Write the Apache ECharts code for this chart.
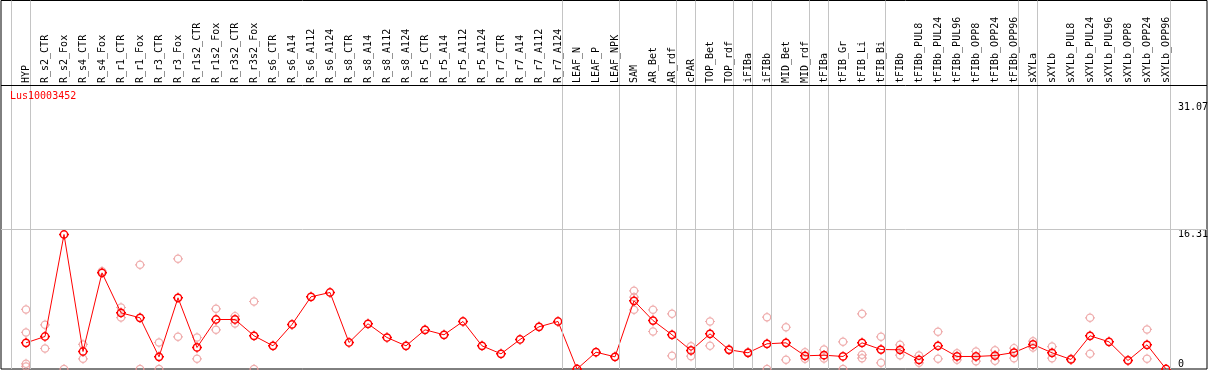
<!DOCTYPE html>
<html>
<head>
<meta charset="utf-8">
<script src="https://cdn.jsdelivr.net/npm/echarts@6/dist/echarts.min.js"></script>
<style>
html,body{margin:0;padding:0;background:#fff;}
#chart{width:1209px;height:370px;}
</style>
</head>
<body>
<div id="chart"></div>
<script>
const geneName = 'Lus10003452';
const categories = ['HYP','R_s2_CTR','R_s2_Fox','R_s4_CTR','R_s4_Fox','R_r1_CTR','R_r1_Fox','R_r3_CTR','R_r3_Fox','R_r1s2_CTR','R_r1s2_Fox','R_r3s2_CTR','R_r3s2_Fox','R_s6_CTR','R_s6_A14','R_s6_A112','R_s6_A124','R_s8_CTR','R_s8_A14','R_s8_A112','R_s8_A124','R_r5_CTR','R_r5_A14','R_r5_A112','R_r5_A124','R_r7_CTR','R_r7_A14','R_r7_A112','R_r7_A124','LEAF_N','LEAF_P','LEAF_NPK','SAM','AR_Bet','AR_rdf','cPAR','TOP_Bet','TOP_rdf','iFIBa','iFIBb','MID_Bet','MID_rdf','tFIBa','tFIB_Gr','tFIB_Li','tFIB_Bi','tFIBb','tFIBb_PUL8','tFIBb_PUL24','tFIBb_PUL96','tFIBb_OPP8','tFIBb_OPP24','tFIBb_OPP96','sXYLa','sXYLb','sXYLb_PUL8','sXYLb_PUL24','sXYLb_PUL96','sXYLb_OPP8','sXYLb_OPP24','sXYLb_OPP96'];
const meanValues = [3.05,3.79,15.68,2.04,11.21,6.55,5.97,1.42,8.30,2.51,5.77,5.77,3.87,2.70,5.19,8.42,8.92,3.09,5.27,3.67,2.70,4.57,3.99,5.54,2.70,1.77,3.44,4.92,5.54,0,1.96,1.42,7.95,5.65,3.99,2.16,4.10,2.24,1.89,2.94,3.05,1.54,1.61,1.46,3.05,2.27,2.24,1.07,2.70,1.46,1.46,1.57,1.92,2.86,1.89,1.11,3.87,3.17,0.99,2.82,0];
const rep1 = [6.94,5.15,0,2.86,11.4,7.17,12.15,3.09,12.85,3.67,7.02,6.16,7.87,null,null,null,null,null,null,null,null,null,null,null,null,null,null,null,null,null,null,null,9.11,6.90,6.43,2.66,5.54,2.30,1.95,6.04,4.87,1.96,2.27,3.17,6.43,3.75,2.82,1.57,4.34,1.84,2.04,2.19,2.43,3.24,2.62,1.20,5.97,null,1.05,4.61,null];
const rep2 = [4.26,2.39,null,1.19,null,6.00,0,0,3.75,1.19,4.57,5.31,0,null,null,null,null,null,null,null,null,null,null,null,null,null,null,null,null,null,null,null,8.37,4.37,1.54,1.50,2.70,null,null,0,1.07,1.19,1.22,0,1.65,0.72,1.61,0.72,1.19,1.07,0.91,0.95,1.26,2.51,1.26,null,1.77,null,null,1.19,null];
const rep3 = [0.6,null,null,null,null,null,null,null,null,null,null,null,null,null,null,null,null,null,null,null,null,null,null,null,null,null,null,null,null,null,null,null,6.90,null,null,null,null,null,null,null,null,null,null,null,1.26,null,null,null,null,null,null,null,null,null,null,null,null,null,null,null,null];
const rep4 = [0.3,null,null,null,null,null,null,null,null,null,null,null,null,null,null,null,null,null,null,null,null,null,null,null,null,null,null,null,null,null,null,null,null,null,null,null,null,null,null,null,null,null,null,null,null,null,null,null,null,null,null,null,null,null,null,null,null,null,null,null,null];
const groupEnds = [-1,0,28,31,34,35,37,38,39,41,42,45,52,53,60];
const yTickLabels = [16.31,31.07];
const yZeroLabel = [0];

const mono = 'DejaVu Sans Mono';
const markerPath = 'path://M3,11A8,8,0,1,1,19,11A8,8,0,1,1,3,11Z M11,0L11,3 M11,19L11,22 M0,11L3,11 M19,11L22,11';

const repData = [];
[rep1,rep2,rep3,rep4].forEach(function(r){
  r.forEach(function(v,i){ if(v!==null) repData.push([i,v]); });
});
const mainData = meanValues.map(function(v,i){ return [i,v]; });

const chart = echarts.init(document.getElementById('chart'), null, {renderer:'canvas'});
chart.setOption({
  animation:false,
  backgroundColor:'#fff',
  title:{
    text:geneName, left:10, top:91, padding:0,
    textStyle:{color:'#ff0000', fontFamily:mono, fontSize:10, fontWeight:'normal'}
  },
  grid:[
    {left:1, right:2, top:0.5, bottom:1, show:true, borderColor:'#000', borderWidth:1, backgroundColor:'transparent', outerBoundsMode:'none', containLabel:false},
    {left:16.5, width:1159, top:85, height:1, show:false, outerBoundsMode:'none', containLabel:false}
  ],
  xAxis:[
    {type:'value', gridIndex:0, min:-25/19, max:1181/19, show:false},
    {type:'category', gridIndex:1, data:categories, position:'top', boundaryGap:true,
     axisLine:{show:false}, axisTick:{show:false}, splitLine:{show:false},
     axisLabel:{rotate:90, interval:0, margin:2, fontSize:10, fontFamily:mono, color:'#000', hideOverlap:false}}
  ],
  yAxis:[
    {type:'value', gridIndex:0, min:0, max:42.96, position:'right', offset:-30,
     axisLine:{show:false}, axisTick:{show:false}, splitLine:{show:false},
     axisLabel:{customValues:yTickLabels, margin:1, verticalAlign:'top', fontSize:10, fontFamily:mono, color:'#000',
       formatter:function(v){return String(v);}}},
    {type:'value', gridIndex:0, min:0, max:42.96, position:'right', offset:-30,
     axisLine:{show:false}, axisTick:{show:false}, splitLine:{show:false},
     axisLabel:{customValues:yZeroLabel, margin:1, verticalAlign:'bottom', fontSize:10, fontFamily:mono, color:'#000',
       formatter:function(v){return String(v);}}},
    {type:'value', gridIndex:1, show:false}
  ],
  graphic:[
    {type:'line', silent:true, z:10, shape:{x1:1, y1:85.5, x2:1207, y2:85.5}, style:{stroke:'#000', lineWidth:1}}
  ],
  series:[
    {
      type:'scatter', xAxisIndex:0, yAxisIndex:0, data:repData, z:2,
      symbol:markerPath, symbolSize:10, silent:true,
      itemStyle:{color:'rgba(0,0,0,0)', borderColor:'#eb9999', borderWidth:1.2},
      markLine:{
        silent:true, symbol:'none', label:{show:false}, animation:false,
        lineStyle:{color:'#c4c4c4', width:1, type:'solid'},
        data:groupEnds.map(function(g){return {xAxis:g+0.235};}).concat([{yAxis:16.31}])
      }
    },
    {
      type:'line', xAxisIndex:0, yAxisIndex:0, data:mainData, z:3,
      symbol:markerPath, symbolSize:10, showAllSymbol:true, silent:true,
      itemStyle:{color:'rgba(0,0,0,0)', borderColor:'#ff0000', borderWidth:1.5},
      lineStyle:{color:'#ff0000', width:1}
    }
  ]
});
</script>
</body>
</html>
